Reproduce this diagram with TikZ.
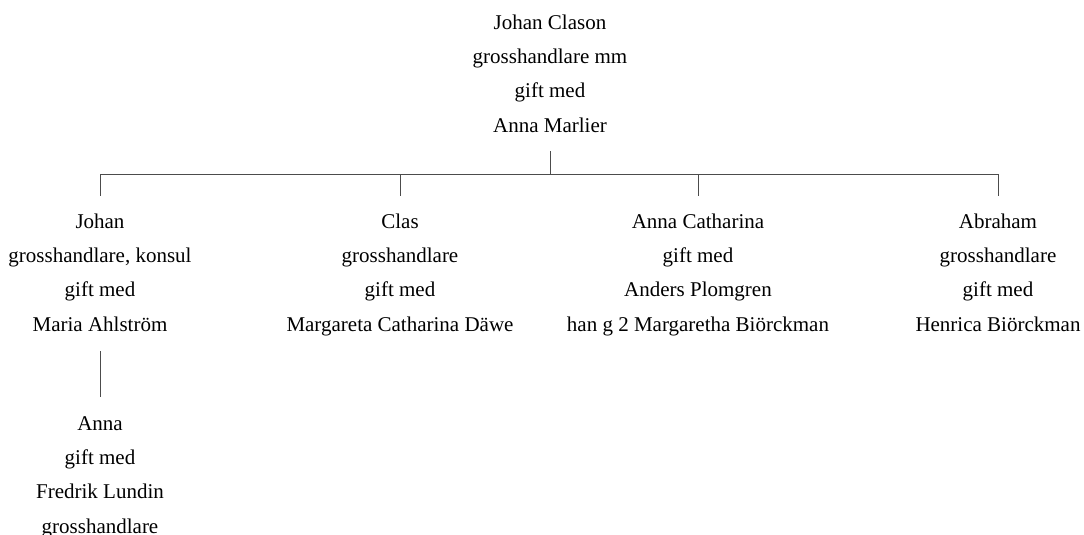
\documentclass[tikz,border=0pt]{standalone}
\usepackage{fontspec}
\setmainfont{Liberation Serif}

\begin{document}
\begin{tikzpicture}[x=1pt,y=-1pt]
\tikzset{person/.style={align=center, anchor=base, inner sep=0pt, font=\fontsize{21}{34.3}\selectfont},
  tie/.style={draw=black!70, line width=0.9pt}}
\clip (0,0) rectangle (1084,535);
% anchor base = baseline of the last line
\node[person] (P0) at (550,132) {Johan Clason\\grosshandlare mm\\gift med\\Anna Marlier};
\node[person] (P1) at (100,331) {Johan\\grosshandlare, konsul\\gift med\\Maria Ahlstr\"om};
\node[person] (P2) at (400,331) {Clas\\grosshandlare\\gift med\\Margareta Catharina D\"awe};
\node[person] (P3) at (698,331) {Anna Catharina\\gift med\\Anders Plomgren\\han g 2 Margaretha Bi\"orckman};
\node[person] (P4) at (998,331) {Abraham\\grosshandlare\\gift med\\Henrica Bi\"orckman};
\node[person] (P5) at (100,533) {Anna\\gift med\\Fredrik Lundin\\grosshandlare};
\coordinate (R0) at (550,151);
\coordinate (J0) at (550,174);
\coordinate (B1) at (100,174);
\coordinate (B2) at (400,174);
\coordinate (B3) at (698,174);
\coordinate (B4) at (998,174);
\coordinate (T1) at (100,196);
\coordinate (T2) at (400,196);
\coordinate (T3) at (698,196);
\coordinate (T4) at (998,196);
\coordinate (S1) at (100,351);
\coordinate (S5) at (100,397);
\draw[tie] (R0) -- (J0);
\draw[tie] (B1) -- (B4);
\draw[tie] (B1) -- (T1);
\draw[tie] (B2) -- (T2);
\draw[tie] (B3) -- (T3);
\draw[tie] (B4) -- (T4);
\draw[tie] (S1) -- (S5);
\end{tikzpicture}
\end{document}
